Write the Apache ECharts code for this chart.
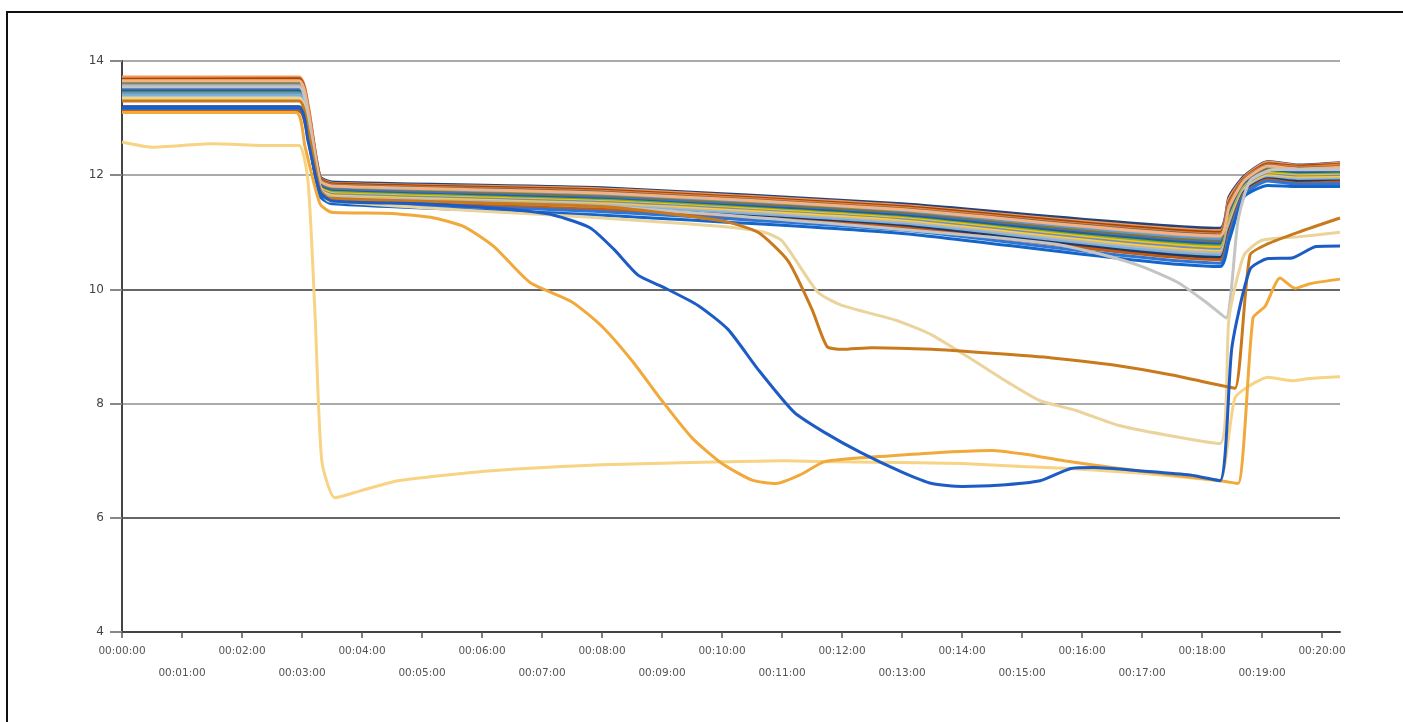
<!DOCTYPE html>
<html>
<head>
<meta charset="utf-8">
<script src="https://cdn.jsdelivr.net/npm/echarts@6/dist/echarts.min.js"></script>
<style>
  html, body { margin: 0; padding: 0; background: #fff; }
  #chart { width: 1403px; height: 722px; }
</style>
</head>
<body>
<div id="chart"></div>
<script>
// time in minutes since 00:00:00
const MINUTE_TICKS = [0, 1, 2, 3, 4, 5, 6, 7, 8, 9, 10, 11, 12, 13, 14, 15, 16, 17, 18, 19, 20];

// bundle of stable lines: same time points for all
const T_BUNDLE = [0, 2.95, 3.1, 3.3, 3.5, 8, 13, 18.3, 18.45, 18.7, 19.1, 19.6, 20.3];
const BUNDLE_VALUES = [
  [13.70, 13.70, 13.20, 11.98, 11.88, 11.78, 11.50, 11.07, 11.62, 11.98, 12.24, 12.18, 12.22],
  [13.72, 13.72, 13.25, 11.96, 11.86, 11.76, 11.47, 11.03, 11.58, 11.96, 12.23, 12.17, 12.21],
  [13.68, 13.69, 13.18, 11.95, 11.85, 11.74, 11.45, 11.00, 11.52, 11.94, 12.20, 12.16, 12.19],
  [13.66, 13.66, 13.16, 11.93, 11.83, 11.72, 11.43, 10.97, 11.48, 11.93, 12.18, 12.14, 12.18],
  [13.62, 13.62, 13.12, 11.92, 11.82, 11.70, 11.41, 10.95, 11.45, 11.91, 12.17, 12.12, 12.15],
  [13.60, 13.61, 13.10, 11.90, 11.80, 11.68, 11.39, 10.92, 11.42, 11.90, 12.15, 12.11, 12.14],
  [13.58, 13.58, 13.08, 11.89, 11.79, 11.66, 11.37, 10.90, 11.40, 11.89, 12.14, 12.10, 12.12],
  [13.55, 13.55, 13.05, 11.87, 11.77, 11.64, 11.35, 10.87, 11.36, 11.87, 12.12, 12.08, 12.10],
  [13.53, 13.53, 13.03, 11.85, 11.75, 11.62, 11.33, 10.84, 11.33, 11.85, 12.10, 12.06, 12.08],
  [13.50, 13.50, 13.00, 11.84, 11.74, 11.60, 11.31, 10.82, 11.30, 11.84, 12.08, 12.05, 12.06],
  [13.47, 13.47, 12.97, 11.82, 11.72, 11.58, 11.29, 10.79, 11.27, 11.82, 12.06, 12.03, 12.04],
  [13.44, 13.44, 12.94, 11.80, 11.70, 11.56, 11.26, 10.76, 11.24, 11.80, 12.05, 12.01, 12.02],
  [13.38, 13.37, 12.88, 11.79, 11.68, 11.54, 11.24, 10.73, 11.20, 11.78, 12.03, 11.99, 12.00],
  [13.42, 13.42, 12.92, 11.77, 11.66, 11.52, 11.22, 10.70, 11.17, 11.77, 12.01, 11.97, 11.98],
  [13.33, 13.33, 12.84, 11.75, 11.64, 11.50, 11.20, 10.67, 11.14, 11.75, 11.99, 11.95, 11.96],
  [13.36, 13.36, 12.86, 11.73, 11.62, 11.48, 11.17, 10.64, 11.10, 11.73, 11.97, 11.93, 11.94],
  [13.40, 13.40, 12.90, 11.71, 11.60, 11.45, 11.14, 10.60, 11.06, 11.71, 11.95, 11.91, 11.92],
  [13.20, 13.20, 12.72, 11.69, 11.58, 11.42, 11.11, 10.56, 11.02, 11.70, 11.94, 11.89, 11.90],
  [13.12, 13.12, 12.65, 11.67, 11.56, 11.40, 11.08, 10.52, 10.98, 11.68, 11.92, 11.86, 11.88],
  [13.17, 13.17, 12.68, 11.65, 11.54, 11.36, 11.04, 10.46, 10.92, 11.66, 11.90, 11.84, 11.85],
  [13.19, 13.19, 12.70, 11.63, 11.50, 11.30, 10.98, 10.40, 10.85, 11.62, 11.82, 11.80, 11.80],
  [13.65, 13.65, 13.15, 11.91, 11.81, 11.69, 11.40, 10.94, 11.44, 11.90, 12.16, 12.11, 12.14]
];
const BUNDLE_COLORS = ['#264478', '#F1975A', '#9E480E', '#ED7D31', '#636363', '#43682B', '#A5A5A5',
  '#5B9BD5', '#997300', '#4472C4', '#255E91', '#70AD47', '#FFC000', '#698ED0', '#FFCD33', '#B7B7B7',
  '#7CAFDD', '#1F3864', '#C55A11', '#2E75D6', '#1565C8', '#F4B183'];

// lines that drift away from the bundle
const LIGHT_T = [0, 0.5, 1.5, 2.5, 2.95, 3.1, 3.22, 3.33, 3.55, 4, 4.6, 5.5, 6.5, 8, 10, 11, 12, 13, 14, 15, 16, 17, 18, 18.3, 18.55, 18.85, 19.1, 19.5, 19.8, 20.3];
const LIGHT_V = [12.58, 12.49, 12.55, 12.52, 12.52, 11.9, 9.5, 7.0, 6.35, 6.48, 6.65, 6.76, 6.85, 6.93, 6.98, 7.0, 6.98, 6.97, 6.95, 6.9, 6.85, 6.78, 6.68, 6.65, 8.1, 8.35, 8.46, 8.4, 8.44, 8.47];

const ORANGE_T = [0, 2.9, 3.05, 3.3, 3.5, 4.5, 5.2, 5.7, 6.2, 6.8, 7.5, 8, 8.5, 9, 9.5, 10, 10.5, 10.9, 11.3, 11.7, 12.3, 13, 13.7, 14.5, 15, 15.7, 16.5, 17.5, 18.3, 18.6, 18.85, 19.05, 19.3, 19.55, 19.8, 20.3];
const ORANGE_V = [13.1, 13.1, 12.5, 11.5, 11.35, 11.33, 11.25, 11.1, 10.75, 10.12, 9.78, 9.35, 8.75, 8.05, 7.4, 6.95, 6.66, 6.6, 6.75, 6.98, 7.05, 7.1, 7.15, 7.18, 7.12, 7.0, 6.88, 6.75, 6.65, 6.6, 9.5, 9.7, 10.2, 10.02, 10.1, 10.18];

const BLUE_T = [0, 2.95, 3.1, 3.3, 3.5, 5, 6.5, 7.2, 7.8, 8.2, 8.6, 9, 9.6, 10.1, 10.6, 11.2, 11.7, 12.3, 13, 13.5, 14, 14.6, 15.3, 15.8, 16.2, 17, 17.8, 18.3, 18.5, 18.8, 19.1, 19.5, 19.9, 20.3];
const BLUE_V = [13.18, 13.18, 12.6, 11.7, 11.55, 11.5, 11.4, 11.3, 11.08, 10.7, 10.25, 10.05, 9.72, 9.3, 8.6, 7.85, 7.5, 7.15, 6.8, 6.6, 6.55, 6.57, 6.65, 6.86, 6.88, 6.82, 6.75, 6.65, 9.0, 10.35, 10.54, 10.55, 10.75, 10.76];

const DARK_ORANGE_T = [0, 2.95, 3.1, 3.3, 3.45, 8, 10, 10.6, 11.1, 11.5, 11.75, 12, 12.5, 13.5, 14.5, 15.5, 16.5, 17.5, 18.3, 18.55, 18.8, 19.1, 19.6, 20.3];
const DARK_ORANGE_V = [13.3, 13.3, 12.8, 11.75, 11.6, 11.45, 11.2, 11.0, 10.5, 9.65, 9.0, 8.95, 8.98, 8.95, 8.88, 8.8, 8.68, 8.5, 8.32, 8.27, 10.6, 10.8, 11.0, 11.25];

const TAN_T = [0, 2.95, 3.1, 3.3, 3.45, 8, 10, 10.7, 11, 11.6, 12, 12.9, 13.5, 14.2, 14.8, 15.3, 15.9, 16.6, 17.4, 18.3, 18.45, 18.7, 19, 19.6, 20.3];
const TAN_V = [13.35, 13.35, 12.8, 11.75, 11.55, 11.25, 11.1, 11.0, 10.85, 9.95, 9.72, 9.46, 9.2, 8.75, 8.35, 8.05, 7.88, 7.62, 7.45, 7.3, 9.5, 10.6, 10.86, 10.92, 11.0];

const GRAY_T = [0, 2.95, 3.1, 3.3, 3.45, 8, 13, 15.5, 16.3, 17, 17.6, 18.1, 18.4, 18.6, 18.8, 19.2, 20.3];
const GRAY_V = [13.55, 13.55, 13.0, 11.8, 11.62, 11.45, 11.05, 10.8, 10.62, 10.4, 10.12, 9.75, 9.5, 11.2, 11.9, 12.1, 12.1];

const zip = (t, v) => t.map((x, i) => [x, v[i]]);
const pad = n => (n < 10 ? '0' : '') + n;
const fmtMin = m => '00:' + pad(m) + ':00';

const chart = echarts.init(document.getElementById('chart'));

const lineSeries = (data, color, width) => ({
  type: 'line',
  data,
  showSymbol: false,
  symbol: 'none',
  smooth: 0.2,
  lineStyle: { color, width: width || 3 },
  emphasis: { disabled: true },
});

const series = BUNDLE_VALUES.map((v, i) => lineSeries(zip(T_BUNDLE, v), BUNDLE_COLORS[i], 3));
series.push(lineSeries(zip(GRAY_T, GRAY_V), '#C4C4C4'));
series.push(lineSeries(zip(TAN_T, TAN_V), '#EBD39C'));
series.push(lineSeries(zip(LIGHT_T, LIGHT_V), '#F7D383'));
series.push(lineSeries(zip(DARK_ORANGE_T, DARK_ORANGE_V), '#C97A1C'));
series.push(lineSeries(zip(ORANGE_T, ORANGE_V), '#F0A93A'));
series.push(lineSeries(zip(BLUE_T, BLUE_V), '#1D5CC4'));

chart.setOption({
  animation: false,
  backgroundColor: '#fff',
  graphic: [{
    type: 'rect',
    shape: { x: 7, y: 12, width: 1430, height: 760 },
    style: { fill: null, stroke: '#111', lineWidth: 2 },
    silent: true,
  }],
  grid: { left: 122, right: 63, top: 61, bottom: 90 },
  xAxis: {
    type: 'value',
    min: 0,
    max: 20.3,
    interval: 1,
    axisLine: { lineStyle: { color: '#444', width: 2 } },
    axisTick: { customValues: MINUTE_TICKS, length: 6, lineStyle: { color: '#555', width: 1.5 } },
    axisLabel: {
      customValues: MINUTE_TICKS,
      fontFamily: 'DejaVu Sans',
      fontSize: 10.5,
      color: '#555',
      margin: 8,
      lineHeight: 22,
      formatter: v => (v % 2 === 1 ? '\n' : '') + fmtMin(v),
    },
    splitLine: { show: false },
  },
  yAxis: {
    type: 'value',
    min: 4,
    max: 14,
    interval: 2,
    axisLine: { show: true, lineStyle: { color: '#444', width: 2 } },
    axisTick: { show: true, length: 12, lineStyle: { color: '#888', width: 2 } },
    axisLabel: { fontFamily: 'DejaVu Sans', fontSize: 12, color: '#444', margin: 18 },
    splitLine: { lineStyle: { color: ['#999', '#666', '#aaa', '#666', '#aaa', '#aaa'], width: 2 } },
  },
  series,
});
</script>
</body>
</html>
